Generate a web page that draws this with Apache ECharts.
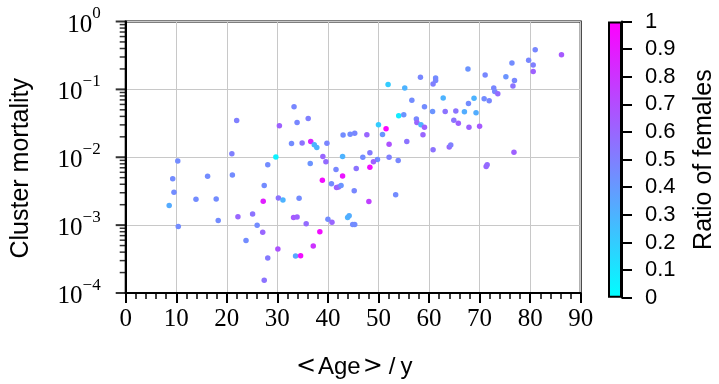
<!DOCTYPE html>
<html><head><meta charset="utf-8">
<script src="https://cdn.jsdelivr.net/npm/echarts@6/dist/echarts.min.js"></script>
<style>html,body{margin:0;padding:0;background:#fff}#c{width:719px;height:384px}</style>
</head><body><div id="c"></div>
<script>
// Mean age (years)
const ages = [21.95,21.0,30.4,29.7,33.3,33.9,36.1,32.8,34.9,36.6,37.3,37.8,39.8,39.0,42.9,43.0,44.4,45.3,47.7,48.3,46.9,51.9,55.2,58.3,56.6,59.1,50.0,50.8,51.5,52.1,54.0,55.0,57.5,57.6,58.4,59.1,55.6,58.8,52.1,81.0,86.2,76.4,79.7,80.6,80.6,67.7,71.1,75.2,76.9,76.6,72.8,73.0,73.6,61.3,61.3,60.8,62.8,68.9,67.8,70.9,71.9,60.7,63.2,65.3,67.0,69.3,64.9,65.8,67.9,70.0,60.8,64.0,64.3,76.8,10.3,28.1,9.3,16.2,21.1,27.4,9.55,13.9,17.9,27.2,30.2,8.6,18.3,22.2,25.1,26.0,27.1,10.4,23.8,28.1,30.1,27.4,49.8,53.9,49.0,48.3,39.6,36.5,41.6,42.9,45.6,38.9,40.7,41.7,42.1,42.6,45.2,53.4,48.1,31.1,34.3,33.2,33.9,35.7,40.0,40.8,43.9,44.2,44.9,45.3,38.4,37.1,33.6,34.6,71.3,71.5];
// Cluster mortality
const mortality = [0.0347,0.01127,0.0290,0.01009,0.0553,0.0324,0.0371,0.0159,0.01626,0.01702,0.01524,0.01393,0.0161,0.01023,0.01023,0.02123,0.02173,0.02249,0.02148,0.01167,0.0100,0.1175,0.1052,0.1503,0.0690,0.0553,0.0300,0.0217,0.0262,0.0156,0.0409,0.0424,0.0366,0.0324,0.0300,0.0277,0.0170,0.0215,0.0100,0.383,0.324,0.245,0.268,0.229,0.184,0.199,0.163,0.154,0.135,0.1125,0.1052,0.0931,0.0863,0.147,0.135,0.120,0.0746,0.0738,0.0618,0.0729,0.0682,0.0473,0.0473,0.0479,0.0468,0.0453,0.0351,0.0317,0.0277,0.0287,0.0129,0.0141,0.0151,0.0118,0.00883,0.00773,0.00484,0.00524,0.00547,0.00384,0.00304,0.00240,0.00243,0.00225,0.00251,0.00195,0.00117,0.00133,0.00146,0.00100,0.000782,0.000955,0.000593,0.000329,0.000444,0.000154,0.00923,0.00893,0.00855,0.00714,0.00855,0.00807,0.00661,0.00528,0.00684,0.00458,0.00406,0.00359,0.00363,0.00384,0.00321,0.00281,0.00222,0.00235,0.00249,0.00129,0.00132,0.00105,0.00122,0.00110,0.00129,0.00138,0.00102,0.00102,0.000802,0.000491,0.000352,0.000355,0.00731,0.00776];
// Ratio of females
const femaleRatio = [0.5,0.5,0.62,0.05,0.47,0.47,0.5,0.45,0.55,0.85,0.3,0.3,0.48,0.6,0.3,0.45,0.45,0.47,0.6,0.52,0.45,0.2,0.3,0.47,0.45,0.45,0.2,0.42,0.98,0.68,0.08,0.42,0.47,0.6,0.3,0.62,0.55,0.6,0.5,0.47,0.65,0.45,0.47,0.5,0.62,0.42,0.47,0.42,0.47,0.55,0.47,0.47,0.58,0.45,0.47,0.5,0.3,0.3,0.45,0.45,0.47,0.42,0.55,0.55,0.32,0.32,0.55,0.62,0.62,0.65,0.55,0.6,0.5,0.62,0.45,0.45,0.45,0.45,0.45,0.45,0.45,0.45,0.45,0.88,0.55,0.33,0.45,0.6,0.55,0.45,0.6,0.45,0.45,0.52,0.68,0.55,0.45,0.47,0.62,0.95,0.58,0.42,0.47,0.92,0.55,0.95,0.45,0.62,0.6,0.42,0.47,0.45,0.75,0.3,0.45,0.65,0.62,0.58,0.45,0.6,0.3,0.32,0.45,0.45,0.95,0.8,0.35,0.95,0.6,0.58];
const xTicks = [0,10,20,30,40,50,60,70,80,90];
const yMajorTicks = [1e-4, 1e-3, 1e-2, 1e-1, 1];
const yMinorTicks = [];
for (let k = -4; k < 0; k++) for (let m = 2; m <= 9; m++) yMinorTicks.push(m * Math.pow(10, k));
const cbarTicks = [0,0.1,0.2,0.3,0.4,0.5,0.6,0.7,0.8,0.9,1];

const points = ages.map((a, i) => [a, mortality[i], femaleRatio[i]]);
const chart = echarts.init(document.getElementById('c'), null, {renderer: 'canvas'});
const serif = 'Liberation Serif';
const sans = 'Liberation Sans';
const L = 125.7, R = 580.7, T = 21.5, B = 297.7;

chart.setOption({
  animation: false,
  backgroundColor: '#fff',
  grid: [
    {left: L, right: 719 - R, top: T, bottom: 384 - B, show: true, borderColor: '#000', borderWidth: 2, backgroundColor: 'transparent'},
    {left: 608, right: 719 - 622, top: T, bottom: 384 - B}
  ],
  visualMap: [{show: false, seriesIndex: 0, dimension: 2, min: 0, max: 1, inRange: {color: ['#00ffff', '#ff00ff']}}],
  xAxis: [
    {type: 'value', gridIndex: 0, min: 0, max: 90, interval: 10,
     name: '{m|<}Age{m|>}{n|/}y', nameLocation: 'middle', nameGap: 62, nameMoveOverlap: false,
     nameTextStyle: {fontFamily: sans, fontSize: 24, color: '#000',
       rich: {m: {fontFamily: 'DejaVu Sans', fontSize: 24, color: '#000', padding: [0, 2, 0, 2]},
              n: {fontFamily: sans, fontSize: 24, color: '#000', padding: [0, 5, 0, 4]}}},
     axisLine: {show: true, onZero: false, lineStyle: {color: '#000', width: 2}},
     axisTick: {show: true, length: 10, lineStyle: {color: '#000', width: 2}},
     minorTick: {show: true, splitNumber: 5, length: 6, lineStyle: {color: '#000', width: 1.5}},
     axisLabel: {fontFamily: serif, fontSize: 25, color: '#000', margin: 14},
     splitLine: {show: true, lineStyle: {color: '#c8c8c8', width: 1}}},
    {type: 'category', gridIndex: 1, data: ['c'], show: false}
  ],
  yAxis: [
    {type: 'log', logBase: 10, gridIndex: 0, min: 1e-4, max: 1,
     name: 'Cluster mortality', nameLocation: 'middle', nameGap: 92, nameRotate: 90, nameMoveOverlap: false,
     nameTextStyle: {fontFamily: sans, fontSize: 25, color: '#000', align: 'center', padding: [0, 22, 0, 0]},
     axisLine: {show: true, onZero: false, lineStyle: {color: '#000', width: 2}},
     axisTick: {show: false},
     axisLabel: {margin: 25, color: '#000',
       formatter: v => '{b|10}{s|' + String(Math.round(Math.log10(v))).replace('-', '\u2212') + '}',
       rich: {b: {fontFamily: serif, fontSize: 25, lineHeight: 32, verticalAlign: 'bottom', color: '#000'},
              s: {fontFamily: serif, fontSize: 17, lineHeight: 32, verticalAlign: 'top', color: '#000'}}},
     splitLine: {show: true, lineStyle: {color: '#c8c8c8', width: 1}}},
    {type: 'value', gridIndex: 1, min: 0, max: 1, interval: 0.1, position: 'right',
     name: 'Ratio of females', nameLocation: 'middle', nameGap: 70, nameRotate: 90, nameMoveOverlap: false,
     nameTextStyle: {fontFamily: sans, fontSize: 25, color: '#000', align: 'center'},
     axisLine: {show: true, onZero: false, lineStyle: {color: '#000', width: 2}},
     axisTick: {show: true, length: 10, lineStyle: {color: '#000', width: 2}},
     axisLabel: {fontFamily: sans, fontSize: 22, color: '#000', margin: 23,
       formatter: v => String(Math.round(v * 10) / 10)},
     splitLine: {show: false}}
  ],
  series: [
    {type: 'scatter', xAxisIndex: 0, yAxisIndex: 0, data: points, symbolSize: 5.5,
     itemStyle: {opacity: 1}, z: 3},
    {type: 'bar', xAxisIndex: 1, yAxisIndex: 1, data: [1], barWidth: '100%', silent: true,
     itemStyle: {borderColor: '#000', borderWidth: 2,
       color: new echarts.graphic.LinearGradient(0, 0, 0, 1, [{offset: 0, color: '#ff00ff'}, {offset: 1, color: '#00ffff'}])}},
    // outward major ticks of the log y axis, drawn as thin rect markers at x = 0
    {type: 'scatter', xAxisIndex: 0, yAxisIndex: 0, clip: false, silent: true, z: 20,
     data: yMajorTicks.map(v => [0, v]), symbol: 'rect', symbolSize: [10, 2], symbolOffset: [-5, 0],
     itemStyle: {color: '#000'}},
    // outward minor ticks of the log y axis (2..9 x 10^k)
    {type: 'scatter', xAxisIndex: 0, yAxisIndex: 0, clip: false, silent: true, z: 20,
     data: yMinorTicks.map(v => [0, v]), symbol: 'rect', symbolSize: [6, 1.5], symbolOffset: [-3, 0],
     itemStyle: {color: '#000'}}
  ]
});
</script></body></html>
